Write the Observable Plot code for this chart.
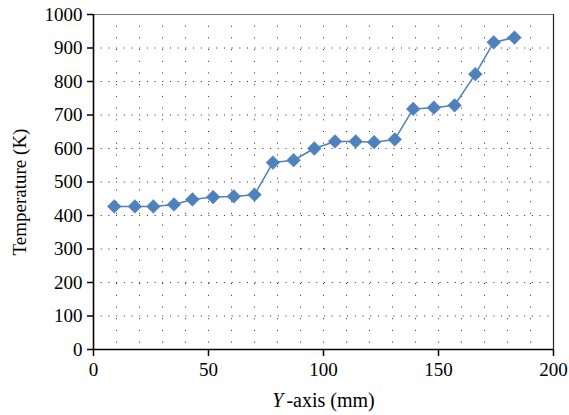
<!DOCTYPE html>
<html>
<head>
<meta charset="utf-8">
<script src="https://cdn.jsdelivr.net/npm/d3@7"></script>
<script src="https://cdn.jsdelivr.net/npm/@observablehq/plot@0.6"></script>
<style>
  html, body { margin: 0; padding: 0; background: #fff; }
</style>
</head>
<body>
<div id="chart"></div>
<script>
// Data
const positions = [9, 18, 26, 35, 43, 52, 61, 70, 78, 87, 96, 105, 114, 122, 131, 139, 148, 157, 166, 174, 183];
const temperatures = [427, 427, 427, 433, 448, 455, 457, 462, 558, 565, 600, 621, 621, 619, 627, 718, 722, 729, 822, 917, 931];
const xTicks = [0, 50, 100, 150, 200];
const yTicks = [0, 100, 200, 300, 400, 500, 600, 700, 800, 900, 1000];
const xGrid = [10, 20, 30, 40, 50, 60, 70, 80, 90, 100, 110, 120, 130, 140, 150, 160, 170, 180, 190];
const yGrid = [100, 200, 300, 400, 500, 600, 700, 800, 900];
const xLabel = "Y-axis (mm)";
const yLabel = "Temperature (K)";

const data = positions.map((x, i) => ({x, t: temperatures[i]}));
const color = "#4F81BD";

const chart = Plot.plot({
  width: 569,
  height: 415,
  marginLeft: 93,
  marginRight: 16,
  marginTop: 14,
  marginBottom: 66,
  style: {fontFamily: "'Liberation Serif', serif", fontSize: "19px", color: "#000", background: "#fff"},
  x: {domain: [0, 200]},
  y: {domain: [0, 1000]},
  marks: [
    Plot.gridX(xGrid, {stroke: "#000", strokeOpacity: 0.85, strokeWidth: 1, strokeDasharray: "1,10.7"}),
    Plot.gridY(yGrid, {stroke: "#000", strokeOpacity: 0.85, strokeWidth: 1, strokeDasharray: "1,6.7"}),
    Plot.ruleY([1000], {stroke: "#777", strokeWidth: 1.2}),
    Plot.ruleX([200], {stroke: "#222", strokeWidth: 1.2}),
    Plot.ruleX([0], {stroke: "#000", strokeWidth: 1.6}),
    Plot.ruleY([0], {stroke: "#000", strokeWidth: 1.6}),
    Plot.axisX({ticks: xTicks, tickSize: 7, tickPadding: 6, label: null, fontSize: 19, tickFormat: d => String(d), strokeWidth: 1.5}),
    Plot.axisY({ticks: yTicks, tickSize: 6, tickPadding: 5, label: null, fontSize: 19, tickFormat: d => String(d), strokeWidth: 1.5}),
    Plot.line(data, {x: "x", y: "t", stroke: color, strokeWidth: 1.5}),
    Plot.dot(data, {x: "x", y: "t", symbol: "diamond2", r: 6.2, fill: color, stroke: color, strokeWidth: 0.5}),
    Plot.text([xLabel], {frameAnchor: "bottom", textAnchor: "middle", dy: 57, lineAnchor: "bottom", fontSize: 20, text: d => d}),
    Plot.text([yLabel], {frameAnchor: "left", textAnchor: "middle", dx: -68, dy: 10, rotate: -90, lineAnchor: "bottom", fontSize: 19, text: d => d})
  ]
});

// italicize the "Y" of the x-axis label
d3.select(chart).selectAll("text").filter(function() { return this.textContent === xLabel; })
  .each(function() {
    const t = d3.select(this);
    t.text(null);
    t.append("tspan").attr("font-style", "italic").text("Y");
    t.append("tspan").attr("dx", 3).text(xLabel.slice(1));
  });

document.getElementById("chart").appendChild(chart);
</script>
</body>
</html>
